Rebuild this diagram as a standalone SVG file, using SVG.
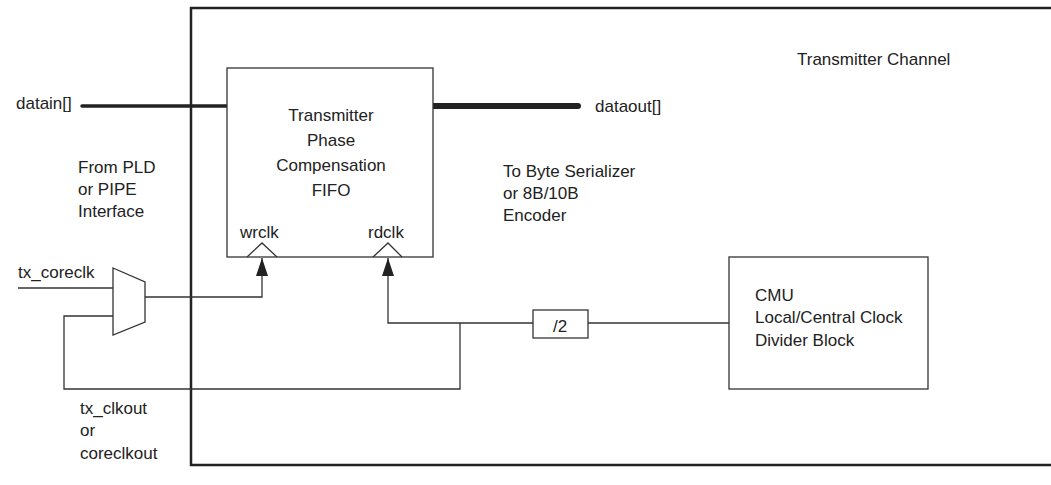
<svg xmlns="http://www.w3.org/2000/svg" width="1051" height="485" viewBox="0 0 1051 485">
  <defs>
    <style>
      text { font-family: "Liberation Sans", Arial, sans-serif; font-size: 17px; fill: #222; }
      .box { fill: #fff; stroke: #333; stroke-width: 1.3; }
      .wire { fill: none; stroke: #333; stroke-width: 1.3; }
      .mid { text-anchor: middle; }
    </style>
    <marker id="arr" viewBox="0 0 18 12" refX="18" refY="6" markerWidth="18" markerHeight="12" markerUnits="userSpaceOnUse" orient="auto">
      <path d="M0,0 L18,6 L0,12 Z" fill="#222"/>
    </marker>
  </defs>
  <rect width="1051" height="485" fill="#fff"/>

  <g id="channel">
    <path d="M1055,8 L191,8 L191,465 L1055,465" fill="none" stroke="#222" stroke-width="2.5"/>
    <text x="797" y="65">Transmitter Channel</text>
  </g>

  <g id="connectors">
    <line x1="82" y1="106" x2="227" y2="106" stroke="#222" stroke-width="3.5" stroke-linecap="round"/>
    <line x1="433" y1="106" x2="578" y2="106" stroke="#222" stroke-width="6" stroke-linecap="round"/>
    <line class="wire" x1="18" y1="288" x2="113" y2="288"/>
    <polyline class="wire" points="113,316 64,316 64,389 460,389 460,323"/>
    <polyline class="wire" points="145,297 262,297 262,258" marker-end="url(#arr)"/>
    <polyline class="wire" points="533,323 388,323 388,258" marker-end="url(#arr)"/>
    <line class="wire" x1="588" y1="323" x2="729" y2="323"/>
  </g>

  <g id="fifo">
    <rect class="box" x="227" y="68" width="206" height="189"/>
    <text class="mid" x="331" y="121">Transmitter</text>
    <text class="mid" x="331" y="146">Phase</text>
    <text class="mid" x="331" y="171">Compensation</text>
    <text class="mid" x="331" y="196">FIFO</text>
    <text x="240" y="238">wrclk</text>
    <text x="368" y="238">rdclk</text>
    <polyline class="wire" points="247,257 262,243 277,257"/>
    <polyline class="wire" points="373,257 388,243 402,257"/>
  </g>

  <g id="mux">
    <polygon class="box" points="113,268 145,282 145,322 113,335"/>
  </g>

  <g id="div2">
    <rect class="box" x="533" y="310" width="55" height="28"/>
    <text class="mid" x="560" y="332">/2</text>
  </g>

  <g id="cmu">
    <rect class="box" x="729" y="257" width="199" height="132"/>
    <text x="755" y="301">CMU</text>
    <text x="755" y="323">Local/Central Clock</text>
    <text x="755" y="346">Divider Block</text>
  </g>

  <g id="labels">
    <text x="16" y="109">datain[]</text>
    <text x="595" y="112">dataout[]</text>
    <text x="78" y="173">From PLD</text>
    <text x="78" y="195">or PIPE</text>
    <text x="78" y="217">Interface</text>
    <text x="503" y="177">To Byte Serializer</text>
    <text x="503" y="199">or 8B/10B</text>
    <text x="503" y="221">Encoder</text>
    <text x="18" y="278">tx_coreclk</text>
    <text x="80" y="414">tx_clkout</text>
    <text x="80" y="436">or</text>
    <text x="80" y="459">coreclkout</text>
  </g>
</svg>
